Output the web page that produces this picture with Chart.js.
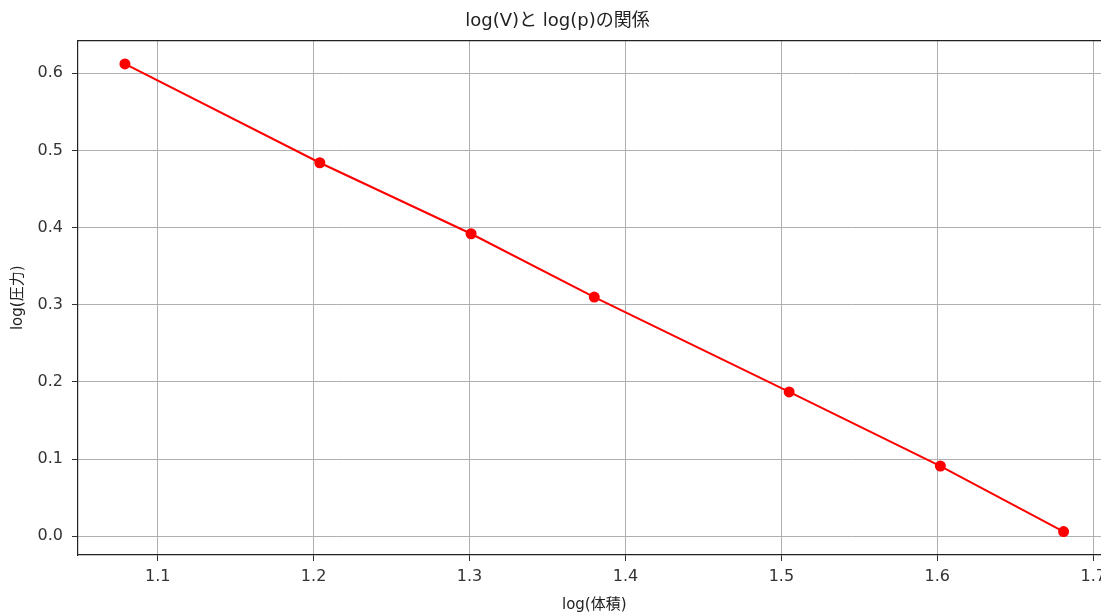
<!DOCTYPE html>
<html lang="ja">
<head>
<meta charset="utf-8">
<title>log(V)と log(p)の関係</title>
<script src="https://cdn.jsdelivr.net/npm/chart.js@4/dist/chart.umd.min.js"></script>
<style>
  html, body { margin: 0; padding: 0; background: #fff; overflow: hidden; }
  #wrap { width: 1116px; height: 615px; }
</style>
</head>
<body>
<div id="wrap"><canvas id="chart" width="1116" height="615"></canvas></div>
<script>
// data
const logVolume = [1.079, 1.204, 1.301, 1.380, 1.505, 1.602, 1.681];
const logPressure = [0.612, 0.484, 0.392, 0.310, 0.187, 0.091, 0.006];
const xTicks = [1.1, 1.2, 1.3, 1.4, 1.5, 1.6, 1.7];
const yTicks = [0.0, 0.1, 0.2, 0.3, 0.4, 0.5, 0.6];

const FONT = '"DejaVu Sans", "Noto Sans CJK JP", sans-serif';

// matplotlib draws a frame on every side, Chart.js only on the axes
const topSpine = {
    id: 'topSpine',
    afterDraw(chart) {
        const { ctx, chartArea } = chart;
        ctx.save();
        ctx.strokeStyle = '#222';
        ctx.lineWidth = 1.2;
        ctx.beginPath();
        ctx.moveTo(chartArea.left, chartArea.top);
        ctx.lineTo(chartArea.right, chartArea.top);
        ctx.stroke();
        ctx.restore();
    }
};

const points = logVolume.map((x, i) => ({ x: x, y: logPressure[i] }));

new Chart(document.getElementById('chart').getContext('2d'), {
    type: 'line',
    data: {
        datasets: [{
            data: points,
            borderColor: '#ff0000',
            backgroundColor: '#ff0000',
            borderWidth: 2,
            pointRadius: 5.5,
            pointBorderWidth: 0,
            tension: 0
        }]
    },
    plugins: [topSpine],
    options: {
        responsive: false,
        animation: false,
        layout: { padding: { top: 0, right: 1, left: 0, bottom: 0 } },
        plugins: {
            legend: { display: false },
            tooltip: { enabled: false },
            title: {
                display: true,
                text: 'log(V)と log(p)の関係',
                color: '#222',
                font: { family: FONT, size: 18, weight: 'normal' },
                padding: { top: 11, bottom: 8 }
            }
        },
        scales: {
            x: {
                type: 'linear',
                min: 1.0489,
                max: 1.7111,
                afterBuildTicks: axis => { axis.ticks = xTicks.map(v => ({ value: v })); },
                afterFit: axis => { axis.height = 60; },
                ticks: {
                    color: '#333',
                    font: { family: FONT, size: 16 },
                    padding: 6,
                    maxRotation: 0,
                    callback: v => v.toFixed(1)
                },
                grid: { color: '#b0b0b0', lineWidth: 1, tickColor: '#333', tickLength: 6 },
                border: { color: '#222', width: 1.2 },
                title: {
                    display: true,
                    text: 'log(体積)',
                    color: '#222',
                    font: { family: FONT, size: 15 },
                    padding: { top: 0, bottom: 1 }
                }
            },
            y: {
                type: 'linear',
                min: -0.0243,
                max: 0.6423,
                afterBuildTicks: axis => { axis.ticks = yTicks.map(v => ({ value: v })); },
                afterFit: axis => { axis.width = 78; },
                ticks: {
                    color: '#333',
                    font: { family: FONT, size: 16 },
                    padding: 9,
                    callback: v => v.toFixed(1)
                },
                grid: { color: '#b0b0b0', lineWidth: 1, tickColor: '#333', tickLength: 6 },
                border: { color: '#222', width: 1.2 },
                title: {
                    display: true,
                    text: 'log(圧力)',
                    color: '#222',
                    font: { family: FONT, size: 15 },
                    padding: { top: 9, bottom: 0 }
                }
            }
        }
    }
});
</script>
</body>
</html>
